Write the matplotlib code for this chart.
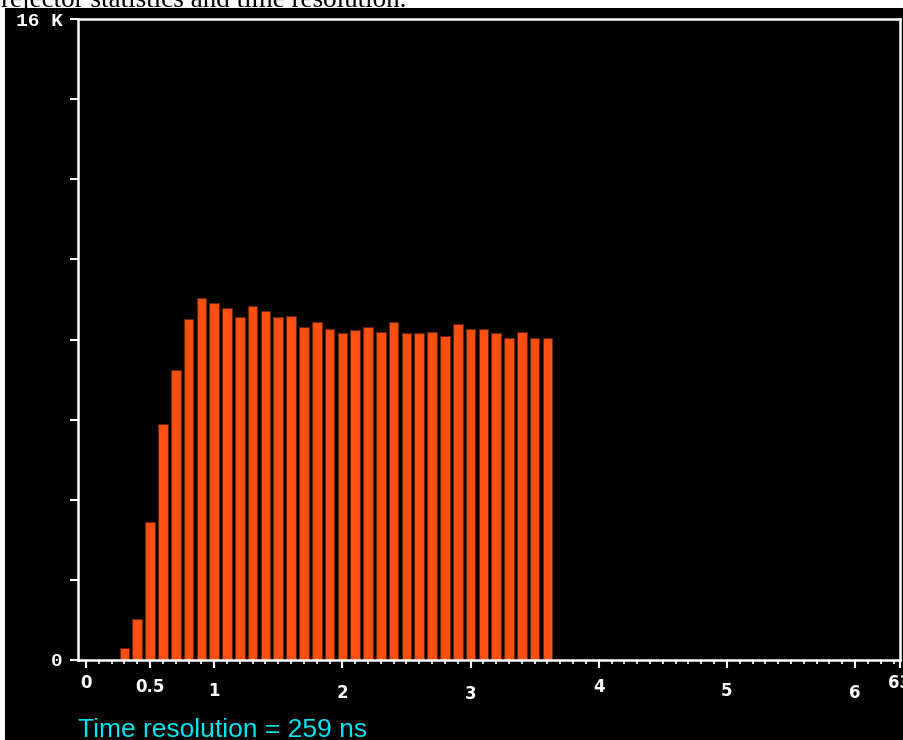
import numpy as np
import matplotlib.pyplot as plt
from matplotlib.patches import Rectangle
from matplotlib.transforms import ScaledTranslation

# histogram bins (time, units as on the axis) and counts in thousands
bin_centers = [0.3, 0.4, 0.5, 0.6, 0.7, 0.8, 0.9, 1.0, 1.1, 1.2, 1.3, 1.4,
               1.5, 1.6, 1.7, 1.8, 1.9, 2.0, 2.1, 2.2, 2.3, 2.4, 2.5, 2.6,
               2.7, 2.8, 2.9, 3.0, 3.1, 3.2, 3.3, 3.4, 3.5, 3.6]
counts_k = [0.30, 1.02, 3.44, 5.88, 7.23, 8.52, 9.03, 8.91, 8.78, 8.55, 8.83, 8.71,
            8.55, 8.59, 8.32, 8.43, 8.27, 8.16, 8.23, 8.32, 8.19, 8.43, 8.16, 8.16,
            8.19, 8.08, 8.39, 8.27, 8.27, 8.16, 8.03, 8.19, 8.03, 8.03]

x_ticks = [0, 0.5, 1, 2, 3, 4, 5, 6, 6.35]
x_tick_labels = ['0', '0.5', '1', '2', '3', '4', '5', '6', '63']
y_ticks = [0, 2, 4, 6, 8, 10, 12, 14, 16]
y_tick_labels = ['0', '', '', '', '', '', '', '', '16 K']

header = 'rejector statistics and time resolution.'
footer = 'Time resolution = 259 ns'

W, H = 904, 740
fig = plt.figure(figsize=(W / 100, H / 100), dpi=100)
fig.patch.set_facecolor('white')
fig.add_artist(Rectangle((5 / W, 0), 1, 1 - 8 / H, transform=fig.transFigure,
                         facecolor='black', edgecolor='none', zorder=0))

# cut-off caption of the page above the screenshot
fig.text(1 / W, 1 - 7 / H, header, family='Liberation Serif', fontsize=19.5,
         color='black', va='baseline', ha='left')

ax = fig.add_axes([78 / W, 1 - 660 / H, (900 - 78) / W, (660 - 19) / H])
ax.set_facecolor('black')

ax.bar(bin_centers, counts_k, width=0.075, color='#ff5010',
       edgecolor='#6a2410', linewidth=0.8, zorder=2)

ax.set_xlim(-0.0624, 6.35)
ax.set_ylim(0, 16)

for side in ['left', 'right', 'top', 'bottom']:
    ax.spines[side].set_color('white')
    ax.spines[side].set_linewidth(1.8)

ax.set_yticks(y_ticks)
ax.set_yticklabels(y_tick_labels, family='Liberation Mono', fontweight='bold',
                   fontsize=14, color='white')
ax.tick_params(axis='y', direction='out', length=6, width=1.5, color='white', pad=5)

ax.set_xticks(x_ticks)
ax.set_xticklabels(x_tick_labels, family='DejaVu Sans', fontweight='bold',
                   fontsize=12, color='white')
ax.set_xticks(np.arange(0, 6.35, 0.1), minor=True)
ax.tick_params(axis='x', which='major', direction='out', length=6, width=1.5,
               color='white', pad=4)
ax.tick_params(axis='x', which='minor', direction='out', length=3, width=1.2,
               color='white')

# the old screen drew the x labels at slightly different heights
x_label_drop = [0, 4, 8, 10, 11, 4, 8, 10, 0]
for lbl, dy in zip(ax.get_xticklabels(), x_label_drop):
    lbl.set_transform(lbl.get_transform() +
                      ScaledTranslation(0, -dy / 100, fig.dpi_scale_trans))

fig.text(78 / W, 1 - 737 / H, footer, family='Liberation Sans', fontsize=19,
         color='#00e5ee', va='baseline', ha='left')

fig.savefig('out.png', dpi=100, facecolor=fig.get_facecolor())
